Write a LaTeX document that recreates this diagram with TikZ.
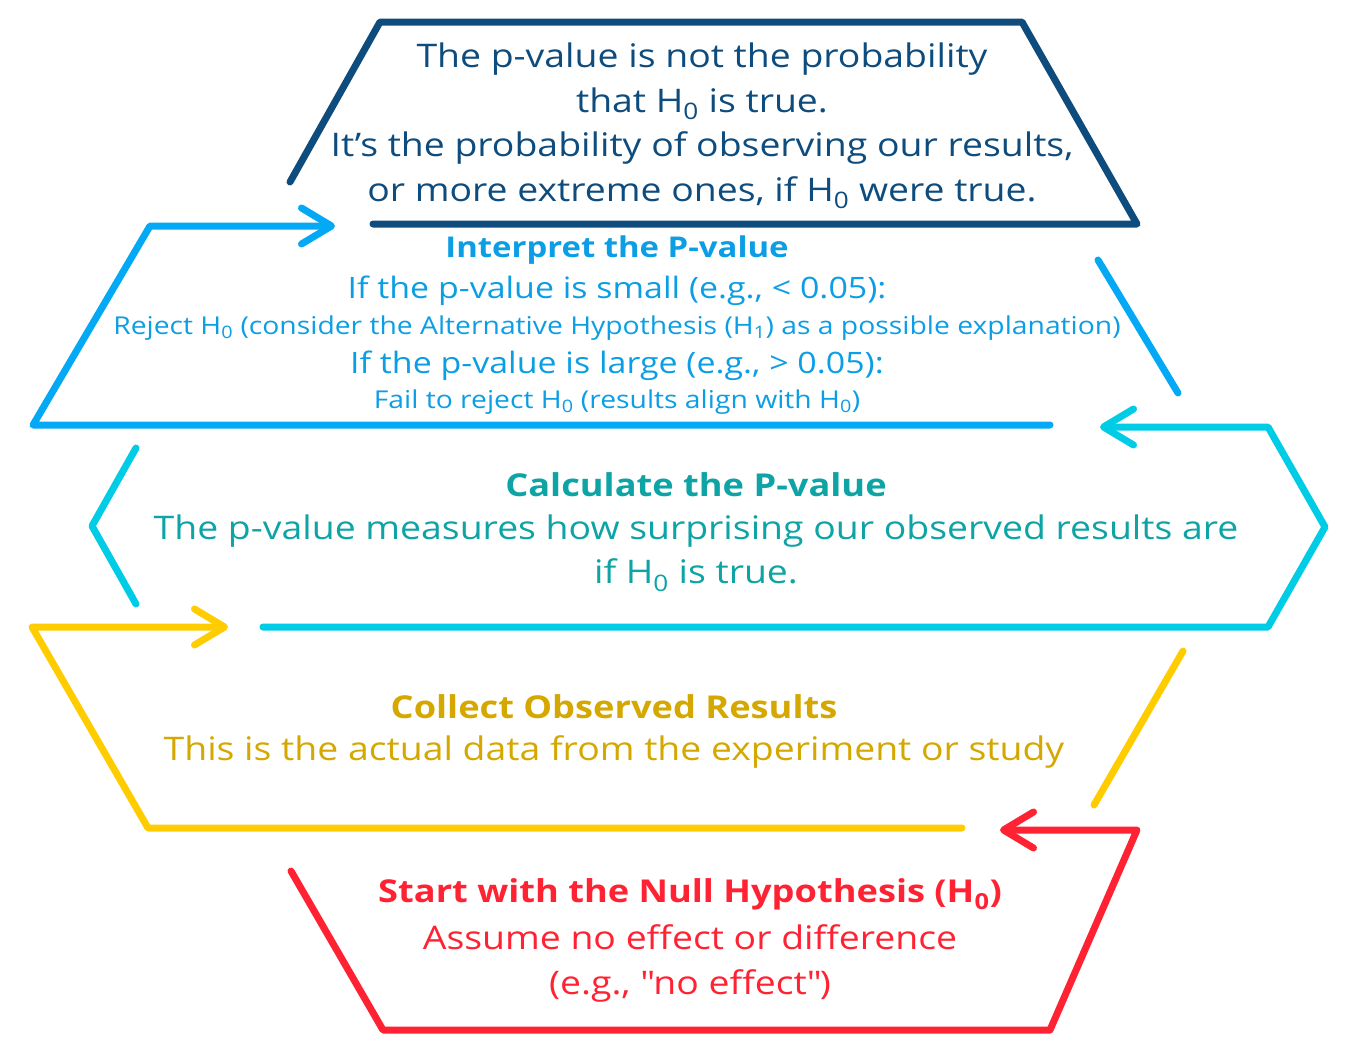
\documentclass[tikz,border=0pt]{standalone}
\usepackage{fontspec}
\setmainfont[FakeStretch=1.15]{Open Sans}
\usetikzlibrary{arrows.meta}
\definecolor{pvnavy}{RGB}{14,76,125}
\definecolor{pvblue}{RGB}{3,169,244}
\definecolor{pvbluetext}{RGB}{12,158,228}
\definecolor{pvcyan}{RGB}{0,204,230}
\definecolor{pvteal}{RGB}{14,164,166}
\definecolor{pvyellow}{RGB}{255,204,0}
\definecolor{pvgold}{RGB}{212,168,0}
\definecolor{pvred}{RGB}{255,34,51}
\newcommand{\Hnull}{H\textsubscript{0}}

\begin{document}
\begin{tikzpicture}[x=1pt,y=-1pt,
  rim/.style={line width=7pt,line cap=round,line join=round},
  tip/.style={-{Straight Barb[length=30pt,width=36pt,line cap=round,line join=round]}},
  txt/.style={align=center,inner sep=0pt},
  head/.style={txt,font=\bfseries\fontsize{31.5}{31.5}\selectfont}]
  \useasboundingbox (0,0) rectangle (1358,1058);

  % top box
  \draw[rim,pvnavy] (290,182) -- (380,22) -- (1022,22) -- (1137,224) -- (373,224);
  \node[txt,text=pvnavy,font=\fontsize{32.5}{44.5}\selectfont] (truth) at (702,126)
    {The p-value is not the probability\\that \Hnull{} is true.\\
     It’s the probability of observing our results,\\or more extreme ones, if \Hnull{} were true.};

  % interpret
  \draw[rim,pvblue] (1098,260) -- (1178,393);
  \draw[rim,pvblue,tip] (1050,425) -- (33,425) -- (150,226) -- (335,226);
  \node[head,text=pvbluetext,font=\bfseries\fontsize{28.6}{28.6}\selectfont] (interp) at (617,250) {Interpret the P-value};
  \node[txt,text=pvbluetext,font=\fontsize{29.5}{36}\selectfont] (small) at (617,291)
    {If the p-value is small (e.g., < 0.05):};
  \node[txt,text=pvbluetext,font=\fontsize{24.6}{36}\selectfont] (reject) at (617,328)
    {Reject \Hnull{} (consider the Alternative Hypothesis (H\textsubscript{1}) as a possible explanation)};
  \node[txt,text=pvbluetext,font=\fontsize{29.5}{36}\selectfont] (large) at (617,366)
    {If the p-value is large (e.g., > 0.05):};
  \node[txt,text=pvbluetext,font=\fontsize{24.6}{36}\selectfont] (fail) at (617,402)
    {Fail to reject \Hnull{} (results align with \Hnull)};

  % calculate
  \draw[rim,pvcyan] (136,448) -- (92,526) -- (136,604);
  \draw[rim,pvcyan,tip] (263,627) -- (1268,627) -- (1325,527) -- (1268,427) -- (1100,427);
  \node[head,text=pvteal] (calc) at (696,485) {Calculate the P-value};
  \node[txt,text=pvteal,font=\fontsize{32.5}{44}\selectfont] (meas) at (696,553)
    {The p-value measures how surprising our observed results are\\if \Hnull{} is true.};

  % collect
  \draw[rim,pvyellow] (1183,651) -- (1094,805);
  \draw[rim,pvyellow,tip] (962,828) -- (148,828) -- (32,627) -- (228,627);
  \node[head,text=pvgold] (coll) at (614,707) {Collect Observed Results};
  \node[txt,text=pvgold,font=\fontsize{32.5}{32.5}\selectfont] (data) at (614,752)
    {This is the actual data from the experiment or study};

  % start
  \draw[rim,pvred,tip] (291,871) -- (383,1030) -- (1050,1030) -- (1137,830) -- (1000,830);
  \node[head,text=pvred] (start) at (690,894)
    {Start with the Null Hypothesis (\Hnull)};
  \node[txt,text=pvred,font=\fontsize{32.5}{45}\selectfont] (assume) at (690,963)
    {Assume no effect or difference\\(e.g., \textquotedbl no effect\textquotedbl)};
\end{tikzpicture}
\end{document}
